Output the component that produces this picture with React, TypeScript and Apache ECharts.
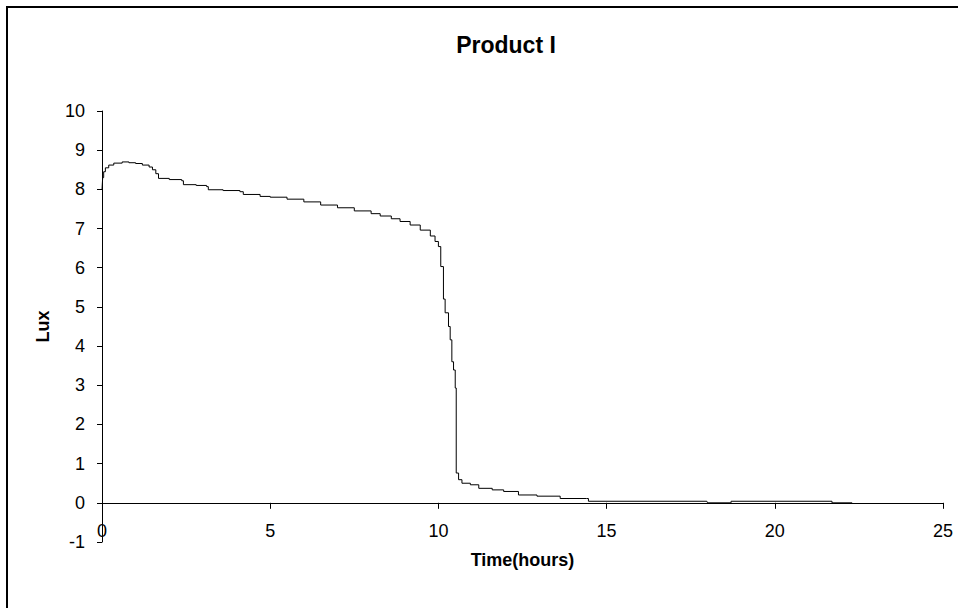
import React, { useEffect, useRef } from "react";
import * as echarts from "echarts";

const chartTitle = "Product I";
const xAxisName = "Time(hours)";
const yAxisName = "Lux";

const timeHours = [
  0, 0.02, 0.05, 0.1, 0.2, 0.35, 0.6, 0.8, 1.0, 1.2, 1.4, 1.5, 1.6, 1.68, 2.0, 2.37, 2.42, 2.8,
  3.11, 3.16, 3.6, 4.1, 4.2, 4.7, 5.0, 5.5, 6.0, 6.5, 7.0, 7.5, 8.0, 8.27, 8.6, 8.86, 9.16,
  9.46, 9.76, 9.9, 10.0, 10.07, 10.15, 10.2, 10.3, 10.35, 10.4, 10.45, 10.5, 10.53, 10.6,
  10.7, 10.95, 11.2, 11.6, 11.94, 12.38, 12.93, 13.62, 14.4, 14.46, 17.98, 18.0, 18.67,
  18.7, 21.64, 21.7, 22.3,
];

const luxValues = [
  8.0, 8.3, 8.45, 8.55, 8.62, 8.67, 8.7, 8.68, 8.66, 8.62, 8.57, 8.5, 8.4, 8.28, 8.25, 8.22,
  8.12, 8.1, 8.07, 7.99, 7.97, 7.94, 7.87, 7.82, 7.8, 7.75, 7.68, 7.6, 7.53, 7.45, 7.38, 7.32,
  7.25, 7.18, 7.09, 6.96, 6.81, 6.67, 6.54, 6.03, 5.2, 4.85, 4.5, 4.16, 3.6, 3.39, 2.93, 0.76,
  0.59, 0.5, 0.46, 0.37, 0.33, 0.29, 0.2, 0.17, 0.11, 0.11, 0.04, 0.04, 0.0, 0.0, 0.04, 0.04,
  0.0, 0.0,
];

const yMin = -1;
const yMax = 10;

const FONT = "'Liberation Sans', Arial, sans-serif";

export default function App() {
  const ref = useRef<HTMLDivElement | null>(null);

  useEffect(() => {
    if (!ref.current) return;
    const chart = echarts.init(ref.current, undefined, { renderer: "svg" });
    const data = timeHours.map((t, i) => [t, luxValues[i]]);
    const gridTop = 111;
    const gridHeight = 431;
    // distance from the grid bottom (y = -1) up to the y = 0 line
    const zeroOffset = (gridHeight * (0 - yMin)) / (yMax - yMin);
    chart.setOption({
      animation: false,
      backgroundColor: "#ffffff",
      textStyle: { fontFamily: FONT, color: "#000" },
      graphic: [
        {
          type: "rect",
          shape: { x: 7, y: 7, width: 980, height: 640 },
          style: { fill: "none", stroke: "#000", lineWidth: 2 },
          silent: true,
        },
        {
          type: "text",
          x: 506,
          y: 45,
          style: {
            text: chartTitle,
            fill: "#000",
            font: `bold 23px ${FONT}`,
            textAlign: "center",
            textVerticalAlign: "middle",
          },
        },
      ],
      grid: { left: 102, top: gridTop, width: 841, height: gridHeight, containLabel: false },
      xAxis: {
        type: "value",
        min: 0,
        max: 25,
        interval: 5,
        position: "bottom",
        offset: -zeroOffset,
        name: xAxisName,
        nameLocation: "middle",
        nameGap: 48,
        nameTextStyle: { fontFamily: FONT, fontWeight: "bold", fontSize: 18, color: "#000" },
        axisLine: { show: true, onZero: false, lineStyle: { color: "#000", width: 1 } },
        axisTick: { show: true, length: 6, lineStyle: { color: "#000" } },
        axisLabel: { fontFamily: FONT, fontSize: 18, color: "#000", margin: 19 },
        splitLine: { show: false },
      },
      yAxis: {
        type: "value",
        min: yMin,
        max: yMax,
        interval: 1,
        name: yAxisName,
        nameLocation: "middle",
        nameGap: 50,
        nameTextStyle: { fontFamily: FONT, fontWeight: "bold", fontSize: 18, color: "#000" },
        axisLine: { show: true, onZero: false, lineStyle: { color: "#000", width: 1 } },
        axisTick: { show: true, length: 5, lineStyle: { color: "#000" } },
        axisLabel: { fontFamily: FONT, fontSize: 18, color: "#000", margin: 17 },
        splitLine: { show: false },
      },
      series: [
        {
          type: "line",
          data,
          step: "end",
          showSymbol: false,
          lineStyle: { color: "#000", width: 1 },
          itemStyle: { color: "#000" },
        },
      ],
    });
    return () => chart.dispose();
  }, []);

  return (
    <div
      ref={ref}
      style={{ position: "absolute", left: 0, top: 0, width: 958, height: 608 }}
    />
  );
}
